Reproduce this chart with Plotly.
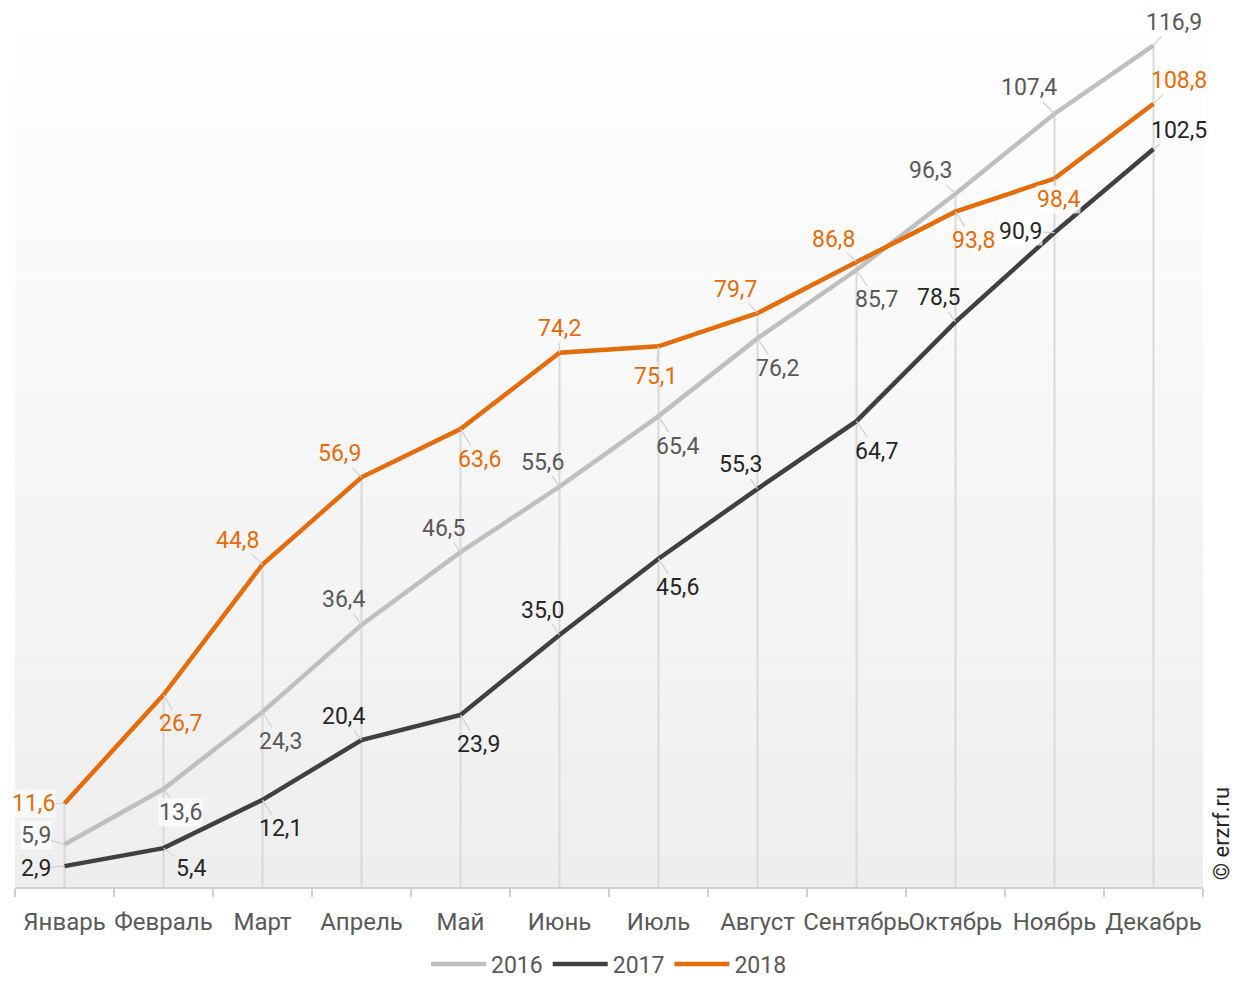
import plotly.graph_objects as go

# Months and yearly series
months = ["Январь", "Февраль", "Март", "Апрель", "Май", "Июнь",
          "Июль", "Август", "Сентябрь", "Октябрь", "Ноябрь", "Декабрь"]
years = ["2016", "2017", "2018"]
v2016 = [5.9, 13.6, 24.3, 36.4, 46.5, 55.6, 65.4, 76.2, 85.7, 96.3, 107.4, 116.9]
v2017 = [2.9, 5.4, 12.1, 20.4, 23.9, 35.0, 45.6, 55.3, 64.7, 78.5, 90.9, 102.5]
v2018 = [11.6, 26.7, 44.8, 56.9, 63.6, 74.2, 75.1, 79.7, 86.8, 93.8, 98.4, 108.8]
series = [v2016, v2017, v2018]

line_colors = ["#bfbfbf", "#404040", "#e46c0a"]
label_colors = ["#595959", "#262626", "#e46c0a"]

# Label offsets (pixels from the point) per series
off2016 = [(-29, -9), (17, 23), (18, 29), (-18, -25), (-17, -24), (-17, -24),
           (19, 30), (20, 30), (20, 30), (-25, -23), (-26, -26), (20, -23)]
off2017 = [(-29, 2), (27, 20), (18, 29), (-18, -24), (18, 30), (-17, -25),
           (19, 29), (-17, -24), (20, 30), (-17, -24), (-34, -1), (25, -19)]
off2018 = [(-31, 0), (17, 29), (-25, -24), (-22, -24), (19, 30), (0, -24),
           (-3, 30), (-22, -24), (-23, -23), (18, 29), (4, 21), (25, -23)]
offsets = [off2016, off2017, off2018]

# Labels drawn on a light backing box
boxed = {(0, 0), (0, 1), (2, 0), (1, 10), (2, 10)}

fig = go.Figure()

# Soft vertical gradient behind the plot area
n_bands = 80
for i in range(n_bands):
    t = i / (n_bands - 1)
    c = int(round(255 - (255 - 238) * t))
    fig.add_shape(type="rect", xref="paper", yref="paper",
                  x0=0, x1=1, y0=1 - (i + 1) / n_bands, y1=1 - i / n_bands,
                  fillcolor=f"rgb({c},{c},{c})", line_width=0, layer="below")

# Drop lines from the highest point of each month to the axis
drop_x, drop_y = [], []
for i, m in enumerate(months):
    top = max(s[i] for s in series)
    drop_x += [m, m, None]
    drop_y += [0, top, None]
fig.add_trace(go.Scatter(x=drop_x, y=drop_y, mode="lines",
                         line=dict(color="#d9d9d9", width=2),
                         showlegend=False, hoverinfo="skip"))

for name, vals, col in zip(years, series, line_colors):
    fig.add_trace(go.Scatter(x=months, y=vals, mode="lines", name=name,
                             line=dict(color=col, width=4.5)))

for si, (vals, offs, lc) in enumerate(zip(series, offsets, label_colors)):
    for i, (m, v) in enumerate(zip(months, vals)):
        dx, dy = offs[i]
        fig.add_annotation(
            x=m, y=v, xref="x", yref="y",
            text=f"{v:.1f}".replace(".", ","),
            showarrow=True, arrowhead=0, arrowwidth=1.2,
            arrowcolor="#cfcfcf", standoff=0, ax=dx, ay=dy,
            font=dict(family="Roboto", size=23, color=lc),
            bgcolor="rgba(255,255,255,0.7)" if (si, i) in boxed else None,
            borderpad=0,
        )

fig.add_annotation(text="© erzrf.ru", xref="paper", yref="paper",
                   x=1.0, y=0.06, xanchor="left", yanchor="middle",
                   xshift=4, textangle=-90, showarrow=False,
                   font=dict(family="Roboto", size=22, color="#262626"))

fig.update_layout(
    width=1240, height=983,
    margin=dict(l=15, r=37, t=0, b=96, autoexpand=False),
    paper_bgcolor="white", plot_bgcolor="rgba(0,0,0,0)",
    font=dict(family="Roboto", size=24, color="#595959"),
    showlegend=True,
    legend=dict(orientation="h", x=0.5, xanchor="center", y=-0.087,
                yanchor="middle", font=dict(size=23, color="#595959"),
                itemwidth=55, bgcolor="rgba(0,0,0,0)", borderwidth=0),
    hovermode=False,
)
fig.update_xaxes(type="category", tickson="boundaries", ticks="outside",
                 ticklen=8, tickwidth=2, tickcolor="#d0d0d0", tickangle=0,
                 showline=True, linecolor="#d0d0d0", linewidth=2,
                 showgrid=False, tickfont=dict(size=24, color="#595959"),
                 ticklabelstandoff=12, automargin=False,
                 range=[-0.5, 11.5])
fig.update_yaxes(range=[0, 123.2], visible=False, showgrid=False,
                 zeroline=False, automargin=False)

fig.write_html("out.html")
